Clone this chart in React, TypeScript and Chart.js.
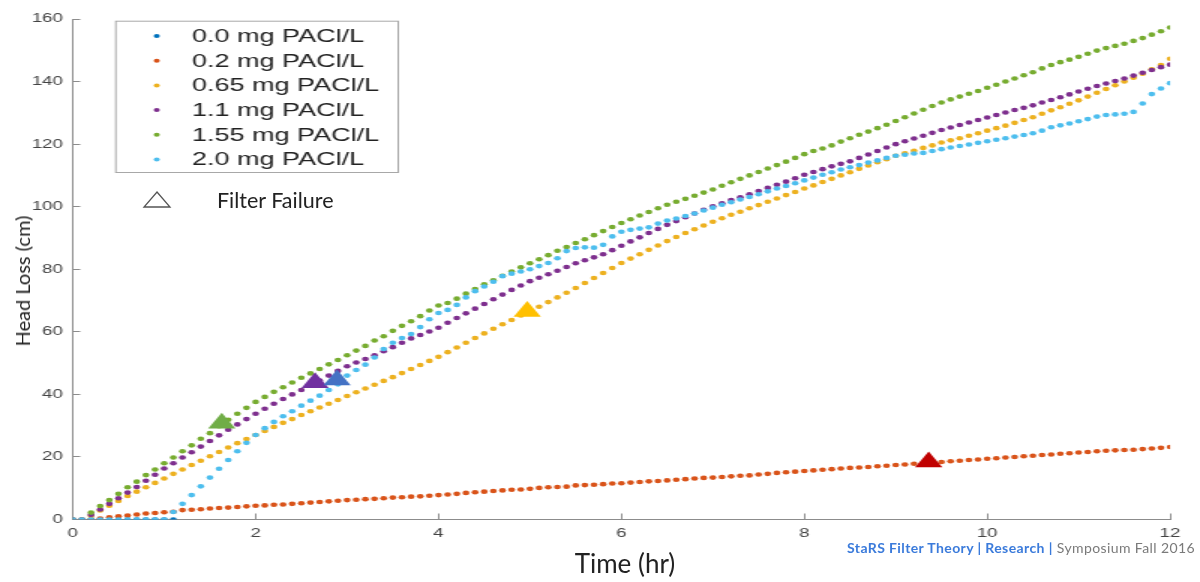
import React, { useEffect, useRef } from "react";
import { Chart, registerables } from "chart.js";

Chart.register(...registerables);

// Time axis (hr), one sample every 0.1 hr
const TIMES: number[] = [
  0, 0.1, 0.2, 0.3, 0.4, 0.5, 0.6, 0.7, 0.8, 0.9,
  1, 1.1, 1.2, 1.3, 1.4, 1.5, 1.6, 1.7, 1.8, 1.9,
  2, 2.1, 2.2, 2.3, 2.4, 2.5, 2.6, 2.7, 2.8, 2.9,
  3, 3.1, 3.2, 3.3, 3.4, 3.5, 3.6, 3.7, 3.8, 3.9,
  4, 4.1, 4.2, 4.3, 4.4, 4.5, 4.6, 4.7, 4.8, 4.9,
  5, 5.1, 5.2, 5.3, 5.4, 5.5, 5.6, 5.7, 5.8, 5.9,
  6, 6.1, 6.2, 6.3, 6.4, 6.5, 6.6, 6.7, 6.8, 6.9,
  7, 7.1, 7.2, 7.3, 7.4, 7.5, 7.6, 7.7, 7.8, 7.9,
  8, 8.1, 8.2, 8.3, 8.4, 8.5, 8.6, 8.7, 8.8, 8.9,
  9, 9.1, 9.2, 9.3, 9.4, 9.5, 9.6, 9.7, 9.8, 9.9,
  10, 10.1, 10.2, 10.3, 10.4, 10.5, 10.6, 10.7, 10.8, 10.9,
  11, 11.1, 11.2, 11.3, 11.4, 11.5, 11.6, 11.7, 11.8, 11.9,
  12,
];

// Head loss (cm) per dose
const HL_0_0: (number | null)[] = [0, 0, 0, 0, 0, 0, 0, 0, 0, 0, 0, 0];

const HL_0_2: (number | null)[] = [
  0, 0, 0, 0.3, 0.7, 1.0, 1.3, 1.6, 1.9, 2.1,
  2.3, 2.5, 3.0, 3.1, 3.3, 3.5, 3.7, 3.8, 4.0, 4.2,
  4.4, 4.5, 4.7, 4.8, 5.0, 5.2, 5.4, 5.6, 5.8, 6.0,
  6.2, 6.3, 6.5, 6.6, 6.8, 7.0, 7.1, 7.3, 7.4, 7.6,
  7.8, 8.0, 8.2, 8.5, 8.7, 8.9, 9.1, 9.3, 9.5, 9.6,
  9.8, 10.1, 10.3, 10.4, 10.5, 10.9, 11.0, 11.1, 11.3, 11.5,
  11.6, 11.8, 12.0, 12.2, 12.3, 12.5, 12.7, 12.9, 13.1, 13.3,
  13.4, 13.6, 13.8, 14.0, 14.1, 14.4, 14.6, 14.9, 15.1, 15.3,
  15.5, 15.7, 15.9, 16.1, 16.3, 16.5, 16.6, 16.8, 17.0, 17.2,
  17.4, 17.6, 17.8, 18.0, 18.2, 18.4, 18.6, 18.8, 19.0, 19.2,
  19.4, 19.6, 19.8, 20.0, 20.2, 20.4, 20.6, 20.8, 21.0, 21.2,
  21.4, 21.6, 21.8, 22.0, 22.1, 22.2, 22.3, 22.5, 22.7, 22.9,
  23.2,
];

const HL_0_65: (number | null)[] = [
  null, null, 1.2, 2.9, 4.4, 5.9, 7.5, 8.9, 10.3, 11.7,
  13.1, 14.6, 16.0, 17.4, 18.8, 20.2, 21.6, 23.0, 24.4, 25.7,
  27.0, 28.3, 29.6, 30.9, 32.1, 33.4, 34.6, 35.8, 37.0, 38.2,
  39.5, 40.7, 41.9, 43.1, 44.3, 45.5, 46.8, 48.1, 49.4, 50.7,
  52.0, 53.5, 55.0, 56.5, 58.0, 59.5, 61.0, 62.4, 63.8, 65.2,
  66.7, 68.0, 69.5, 71.0, 72.5, 74.0, 75.6, 77.2, 78.8, 80.4,
  82.0, 83.4, 84.8, 86.2, 87.6, 89.0, 90.3, 91.6, 92.8, 94.0,
  95.2, 96.3, 97.4, 98.4, 99.5, 100.5, 101.6, 102.6, 103.7, 104.7,
  105.8, 106.8, 107.9, 108.9, 110.0, 111.0, 112.1, 113.2, 114.2, 115.2,
  116.3, 117.1, 117.9, 118.8, 119.6, 120.5, 121.2, 121.9, 122.7, 123.5,
  124.3, 125.1, 125.9, 126.8, 127.7, 128.6, 129.7, 130.8, 131.8, 132.9,
  134.0, 135.2, 136.4, 137.6, 138.8, 140.0, 141.2, 142.5, 143.9, 145.3,
  147.3,
];

const HL_1_1: (number | null)[] = [
  null, null, 1.5, 3.2, 5.0, 6.8, 8.6, 10.4, 12.4, 14.3,
  16.3, 18.0, 19.8, 21.5, 23.3, 25.1, 26.9, 28.7, 30.4, 32.1,
  33.8, 35.4, 37.0, 38.5, 40.0, 41.4, 42.9, 44.4, 46.0, 47.5,
  49.0, 50.2, 51.3, 52.5, 53.8, 55.1, 56.5, 57.9, 59.0, 60.1,
  61.3, 62.9, 64.4, 65.9, 67.4, 68.9, 70.4, 71.9, 73.4, 74.8,
  76.2, 77.3, 78.4, 79.5, 80.7, 81.9, 82.9, 83.8, 84.8, 86.1,
  87.5, 88.9, 90.2, 91.6, 92.9, 94.2, 95.4, 96.6, 97.8, 99.0,
  100.1, 101.1, 102.1, 103.0, 104.0, 105.0, 106.0, 107.0, 108.0, 109.1,
  110.2, 111.1, 112.0, 112.9, 113.7, 114.5, 115.6, 116.7, 117.8, 118.9,
  120.0, 120.9, 121.8, 122.7, 123.6, 124.5, 125.3, 126.1, 126.9, 127.7,
  128.5, 129.3, 130.1, 130.9, 131.6, 132.4, 133.3, 134.1, 135.0, 135.9,
  136.8, 137.7, 138.6, 139.4, 140.2, 141.0, 141.9, 142.8, 143.7, 144.6,
  145.4,
];

const HL_1_55: (number | null)[] = [
  null, null, 2.2, 4.3, 6.2, 8.2, 10.3, 12.1, 14.2, 16.0,
  18.0, 19.8, 21.8, 23.7, 25.8, 27.6, 29.8, 31.9, 33.8, 35.7,
  37.6, 39.2, 40.8, 42.3, 43.8, 45.3, 46.7, 48.1, 49.6, 51.0,
  52.5, 54.0, 55.5, 57.2, 58.6, 60.3, 61.9, 63.4, 65.0, 66.8,
  68.4, 69.2, 70.6, 72.2, 73.7, 75.2, 76.5, 77.9, 79.3, 80.6,
  81.9, 83.2, 84.5, 85.9, 87.1, 88.4, 89.6, 90.9, 92.2, 93.5,
  94.8, 96.0, 97.2, 98.3, 99.5, 100.6, 101.6, 102.5, 103.5, 104.5,
  105.5, 106.7, 107.8, 108.9, 110.0, 111.1, 112.2, 113.3, 114.4, 115.6,
  116.8, 117.8, 118.6, 119.6, 120.8, 121.9, 123.0, 124.0, 125.1, 126.2,
  127.4, 128.6, 129.8, 131.0, 132.2, 133.3, 134.3, 135.2, 136.1, 137.0,
  138.0, 139.0, 140.0, 141.0, 142.0, 143.0, 144.2, 145.3, 146.2, 147.0,
  147.9, 148.9, 149.9, 150.7, 151.4, 152.1, 153.0, 153.9, 155.0, 156.1,
  157.3,
];

const HL_2_0: (number | null)[] = [
  0, 0, 0, 0, 0, 0, 0, 0, 0, 0,
  0, 2.4, 5.0, 7.8, 10.6, 13.4, 16.2, 19.0, 21.8, 24.5,
  27.0, 29.2, 31.2, 33.0, 34.6, 36.4, 38.0, 39.6, 41.4, 43.2,
  46.0, 47.8, 49.5, 51.8, 54.5, 56.5, 58.0, 59.3, 61.5, 64.0,
  66.0, 67.0, 68.6, 71.0, 73.0, 74.5, 76.0, 77.8, 78.6, 79.3,
  80.0, 81.0, 82.0, 83.5, 85.8, 86.8, 87.0, 86.9, 87.8, 90.5,
  92.0, 92.6, 93.0, 93.4, 94.6, 95.6, 96.2, 97.0, 97.8, 98.8,
  99.7, 100.6, 101.4, 102.3, 103.1, 104.0, 104.9, 105.8, 106.6, 107.5,
  108.4, 109.3, 110.2, 111.0, 111.9, 112.6, 113.3, 114.1, 114.8, 115.6,
  116.3, 116.6, 117.0, 117.2, 117.8, 118.4, 118.9, 119.4, 119.9, 120.4,
  120.9, 121.4, 121.9, 122.4, 122.9, 123.5, 124.3, 125.4, 126.0, 126.6,
  127.3, 128.0, 128.8, 129.3, 129.5, 129.7, 130.3, 133.0, 136.0, 137.8,
  139.5,
];

const SERIES_LABELS = [
  "0.0 mg PACl/L",
  "0.2 mg PACl/L",
  "0.65 mg PACl/L",
  "1.1 mg PACl/L",
  "1.55 mg PACl/L",
  "2.0 mg PACl/L",
];
const SERIES_VALUES = [HL_0_0, HL_0_2, HL_0_65, HL_1_1, HL_1_55, HL_2_0];
const SERIES_COLORS = ["#0072BD", "#D95319", "#EDB120", "#7E2F8E", "#77AC30", "#4DBEEE"];

// Filter failure markers
const FAIL_TIMES = [1.63, 2.65, 2.89, 4.97, 9.36];
const FAIL_HEAD = [30.8, 43.7, 44.6, 66.5, 18.4];
const FAIL_COLORS = ["#70AD47", "#7030A0", "#4472C4", "#FFC000", "#C00000"];

const X_TICK_STEP = 2;
const Y_TICK_STEP = 20;

// The original figure is stretched horizontally; the canvas is drawn narrow and stretched by CSS.
const STRETCH = 1.5;
const CSS_W = 1200;
const CSS_H = 582;
const CANVAS_W = CSS_W / STRETCH;

const legendPlugin = {
  id: "boxLegend",
  afterDraw(chart: any) {
    const ctx = chart.ctx as CanvasRenderingContext2D;
    ctx.save();
    const bx = 76.7, by = 20.7, bw = 188.3, bh = 151.3;
    ctx.fillStyle = "#ffffff";
    ctx.fillRect(bx, by, bw, bh);
    ctx.strokeStyle = "#a8a8a8";
    ctx.lineWidth = 1;
    ctx.strokeRect(bx + 0.5, by + 0.5, bw, bh);
    ctx.font = '18px "Liberation Sans", Arial, sans-serif';
    ctx.textBaseline = "middle";
    ctx.textAlign = "left";
    SERIES_LABELS.forEach((lab, i) => {
      const y = 36 + i * 24.7;
      ctx.fillStyle = SERIES_COLORS[i];
      ctx.beginPath();
      ctx.arc(104.5, y, 2, 0, Math.PI * 2);
      ctx.fill();
      ctx.fillStyle = "#222";
      ctx.fillText(lab, 128, y + 1);
    });
    ctx.restore();
  },
};

export default function App() {
  const ref = useRef<HTMLCanvasElement | null>(null);

  useEffect(() => {
    if (!ref.current) return;
    const toPoints = (vals: (number | null)[]) => {
      const pts: { x: number; y: number }[] = [];
      vals.forEach((v, i) => {
        if (v !== null && v !== undefined) pts.push({ x: TIMES[i], y: v });
      });
      return pts;
    };
    const datasets: any[] = SERIES_VALUES.map((vals, i) => ({
      label: SERIES_LABELS[i],
      data: toPoints(vals),
      showLine: false,
      pointRadius: 2.3,
      pointBorderWidth: 0,
      pointBackgroundColor: SERIES_COLORS[i],
      backgroundColor: SERIES_COLORS[i],
      borderColor: SERIES_COLORS[i],
      order: SERIES_VALUES.length - i,
    }));
    datasets.push({
      label: "Filter Failure",
      data: FAIL_TIMES.map((t, i) => ({ x: t, y: FAIL_HEAD[i] })),
      showLine: false,
      pointStyle: "triangle",
      pointRadius: 10.5,
      pointBorderWidth: 0,
      pointBackgroundColor: FAIL_COLORS,
      backgroundColor: FAIL_COLORS,
      order: 0,
    });

    const axisColor = "#8c8c8c";
    const chart = new Chart(ref.current, {
      type: "scatter",
      data: { datasets },
      options: {
        animation: false,
        responsive: false,
        devicePixelRatio: 1,
        events: [],
        layout: { padding: { left: 0, right: 14.7, top: 11.7, bottom: 0 } },
        plugins: { legend: { display: false }, tooltip: { enabled: false } },
        scales: {
          x: {
            type: "linear",
            min: 0,
            max: 12,
            afterFit: (s: any) => {
              s.height = 62.5;
            },
            ticks: {
              stepSize: X_TICK_STEP,
              color: "#444",
              padding: 13,
              font: { family: '"Liberation Sans", Arial, sans-serif', size: 12.5 },
              maxRotation: 0,
            },
            grid: { drawOnChartArea: false, drawTicks: true, tickLength: -6, color: axisColor },
            border: { display: true, color: axisColor, width: 1 },
          },
          y: {
            type: "linear",
            min: 0,
            max: 160,
            afterFit: (s: any) => {
              s.width = 48.5;
            },
            ticks: {
              stepSize: Y_TICK_STEP,
              color: "#444",
              padding: 11.5,
              font: { family: '"Liberation Sans", Arial, sans-serif', size: 12.5 },
            },
            grid: { drawOnChartArea: false, drawTicks: true, tickLength: -5, color: axisColor },
            border: { display: true, color: axisColor, width: 1 },
          },
        },
      } as any,
      plugins: [legendPlugin],
    });
    return () => chart.destroy();
  }, []);

  const font = 'Lato, "Open Sans", sans-serif';
  return (
    <div
      style={{
        position: "fixed",
        left: 0,
        top: 0,
        width: CSS_W,
        height: CSS_H,
        background: "#fff",
        overflow: "hidden",
      }}
    >
      <canvas
        ref={ref}
        width={CANVAS_W}
        height={CSS_H}
        style={{ width: CSS_W + "px", height: CSS_H + "px", display: "block" }}
      />
      <div
        style={{
          position: "absolute",
          left: 22,
          top: 281,
          transform: "translate(-50%, -50%) rotate(-90deg)",
          fontFamily: font,
          fontSize: 20,
          color: "#222",
          whiteSpace: "nowrap",
        }}
      >
        Head Loss (cm)
      </div>
      <div
        style={{
          position: "absolute",
          left: 625,
          top: 563,
          transform: "translate(-50%, -50%)",
          fontFamily: font,
          fontSize: 26,
          color: "#222",
          whiteSpace: "nowrap",
        }}
      >
        Time (hr)
      </div>
      <svg
        width={30}
        height={20}
        style={{ position: "absolute", left: 142, top: 190 }}
      >
        <polygon points="15,2 28,17 2,17" fill="none" stroke="#555" strokeWidth={1.3} />
      </svg>
      <div
        style={{
          position: "absolute",
          left: 217,
          top: 200,
          transform: "translateY(-50%)",
          fontFamily: font,
          fontSize: 21.5,
          color: "#222",
          whiteSpace: "nowrap",
        }}
      >
        Filter Failure
      </div>
      <div
        style={{
          position: "absolute",
          right: 5,
          top: 539,
          fontFamily: font,
          fontSize: 14,
          letterSpacing: "0.4px",
          whiteSpace: "nowrap",
        }}
      >
        <span style={{ color: "#3B7BDB", fontWeight: 700 }}>StaRS Filter Theory | Research |</span>
        <span style={{ color: "#7a7a7a" }}> Symposium Fall 2016</span>
      </div>
    </div>
  );
}
